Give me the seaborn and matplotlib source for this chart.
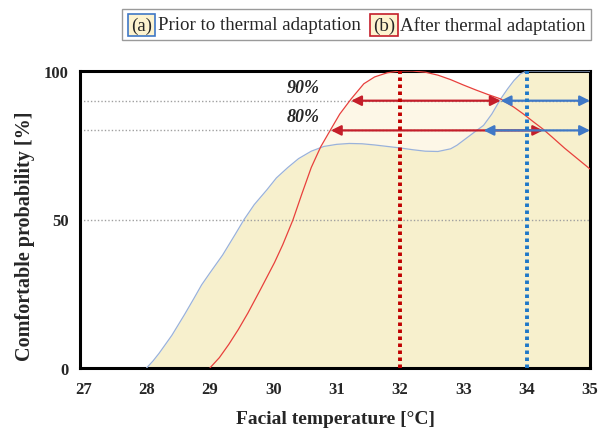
import numpy as np
import pandas as pd
import matplotlib
matplotlib.use("Agg")
import matplotlib.pyplot as plt
from matplotlib.patches import Rectangle
import seaborn as sns

# ---- data ----
prior_temp = [28.0, 28.1, 28.2, 28.3, 28.4, 28.5, 28.6, 28.75, 28.87, 29.0, 29.2, 29.4,
              29.54, 29.7, 29.9, 30.05, 30.23, 30.4, 30.6, 30.8, 31.0, 31.2, 31.4, 31.6,
              31.8, 32.0, 32.2, 32.4, 32.6, 32.8, 32.9, 33.0, 33.1, 33.2, 33.32, 33.45,
              33.59, 33.7, 33.8, 33.9, 34.0, 35.0]
prior_prob = [0, 2.3, 5, 8, 11, 14.5, 18, 23.5, 28, 32, 38, 45,
              50, 55, 60, 64, 67.5, 70.5, 73, 74.6, 75.3, 75.6, 75.5, 75.1,
              74.6, 74.1, 73.5, 73.0, 72.9, 73.8, 75, 76.6, 78.2, 79.8, 81.7, 85.5,
              90.6, 94, 96.8, 99, 100, 100]

after_temp = [29.0, 29.15, 29.3, 29.45, 29.6, 29.8, 30.02, 30.15, 30.31, 30.45, 30.6,
              30.75, 30.91, 31.05, 31.23, 31.43, 31.6, 31.8, 32.0, 32.2, 32.4, 32.6,
              32.8, 33.0, 33.2, 33.4, 33.59, 33.8, 33.95, 34.1, 34.26, 34.4, 34.6,
              34.8, 35.0]
after_prob = [0, 3.5, 8, 13, 18.5, 26.5, 35.5, 41.5, 49.8, 58.5, 67.5,
              74.5, 80.4, 85.5, 90.6, 95.7, 98, 99.4, 100, 100, 99.6, 98.6,
              97.1, 95.3, 93.6, 92, 90.6, 87.8, 85.5, 83, 80.4, 77.8, 74,
              70.5, 67]

ref_levels = [50, 80, 90]
level_labels = ["90%", "80%"]
label_levels = [90, 80]

red_arrow_levels = [90, 80]
red_arrow_start = [31.23, 30.91]
red_arrow_end = [33.59, 34.26]
blue_arrow_levels = [90, 80]
blue_arrow_start = [33.59, 33.32]
blue_arrow_end = [35.0, 35.0]

optimum_after = 32
optimum_prior = 34

x_ticks = [27, 28, 29, 30, 31, 32, 33, 34, 35]
y_ticks = [0, 50, 100]

legend_tags = ["(a)", "(b)"]
legend_names = ["Prior to thermal adaptation", "After thermal adaptation"]

# ---- style ----
sns.set_theme(style="white")
plt.rcParams['font.family'] = ['Liberation Serif', 'DejaVu Serif']

RED_LINE = "#e8403c"
BLUE_LINE = "#9ab2da"
RED_DARK = "#c41e2a"
BLUE_DARK = "#3f78c6"
FILL_PRIOR = "#f7f0cd"
FILL_AFTER = "#fdf7e7"

W, H = 602, 435
fig = plt.figure(figsize=(W / 100, H / 100), dpi=100)
ax = fig.add_axes([80 / W, 1 - 369 / H, (590 - 80) / W, (369 - 72) / H])

df_prior = pd.DataFrame({"temp": prior_temp, "prob": prior_prob})
df_after = pd.DataFrame({"temp": after_temp, "prob": after_prob})

ax.fill_between(after_temp, 0, after_prob, color=FILL_AFTER, lw=0, zorder=1)
ax.fill_between(prior_temp, 0, prior_prob, color=FILL_PRIOR, lw=0, zorder=1.5)

for lv in ref_levels:
    ax.axhline(lv, color="#a0a0a0", lw=1.0, ls=(0, (1, 1.5)), zorder=2)

sns.lineplot(data=df_prior, x="temp", y="prob", ax=ax, color=BLUE_LINE, lw=0.9,
             sort=False, zorder=3)
sns.lineplot(data=df_after, x="temp", y="prob", ax=ax, color=RED_LINE, lw=0.9,
             sort=False, zorder=3)

astyle = "<|-|>,head_length=0.5,head_width=0.25"
for lv, s, e in zip(red_arrow_levels, red_arrow_start, red_arrow_end):
    ax.annotate("", xy=(e, lv), xytext=(s, lv),
                arrowprops=dict(arrowstyle=astyle, color=RED_DARK, lw=1.6,
                                shrinkA=0, shrinkB=0), zorder=4)
for lv, s, e in zip(blue_arrow_levels, blue_arrow_start, blue_arrow_end):
    ax.annotate("", xy=(e, lv), xytext=(s, lv),
                arrowprops=dict(arrowstyle=astyle, color=BLUE_DARK, lw=1.6,
                                shrinkA=0, shrinkB=0), zorder=4)

ax.plot([optimum_after, optimum_after], [0, 100], color="#c00000", lw=2.8,
        ls=(0, (0.9, 0.9)), zorder=5)
ax.plot([optimum_prior, optimum_prior], [0, 100], color="#1f78c8", lw=2.8,
        ls=(0, (0.9, 0.9)), zorder=5)

for txt, lv in zip(level_labels, label_levels):
    ax.text(30.47, lv + 4.6, txt, ha="center", va="center", fontsize=13,
            fontweight="bold", fontstyle="italic", zorder=6)

ax.set_xlim(26.95, 35.0)
ax.set_ylim(0, 100)
ax.set_xticks(x_ticks)
ax.set_yticks(y_ticks)
ax.tick_params(axis="x", length=4, width=0.8, color="#b0b0b0", direction="out",
               pad=5, labelsize=12)
ax.tick_params(axis="y", length=0, pad=8, labelsize=12)
for lab in ax.get_xticklabels() + ax.get_yticklabels():
    lab.set_fontweight("bold")
for sp in ax.spines.values():
    sp.set_color("black")
    sp.set_linewidth(2.2)
    sp.set_visible(True)

ax.set_xlabel("Facial temperature [°C]", fontsize=14, fontweight="bold")
ax.set_ylabel("Comfortable probability [%]", fontsize=14.5, fontweight="bold")
ax.xaxis.set_label_coords(0.5, -0.143)
ax.yaxis.set_label_coords(-0.088, 0.448)

# ---- legend (custom) ----
fig.patches.append(Rectangle((122 / W, 1 - 41 / H), (591 - 122) / W, 31 / H,
                             transform=fig.transFigure, fill=False,
                             edgecolor="#9a9a9a", lw=1.0))
ycen = 1 - 26 / H
tag_x = [131, 373]
name_x = [158, 400]
edge_cols = [BLUE_DARK, RED_DARK]
for tag, nm, tx, nx, ec in zip(legend_tags, legend_names, tag_x, name_x, edge_cols):
    fig.text(tx / W, ycen, tag, ha="left", va="center", fontsize=13.6,
             bbox=dict(boxstyle="square,pad=0.15", facecolor="#fdf3cf",
                       edgecolor=ec, lw=1.2))
    fig.text(nx / W, ycen, nm, ha="left", va="center", fontsize=13.6)

fig.savefig("out.png", dpi=100)
